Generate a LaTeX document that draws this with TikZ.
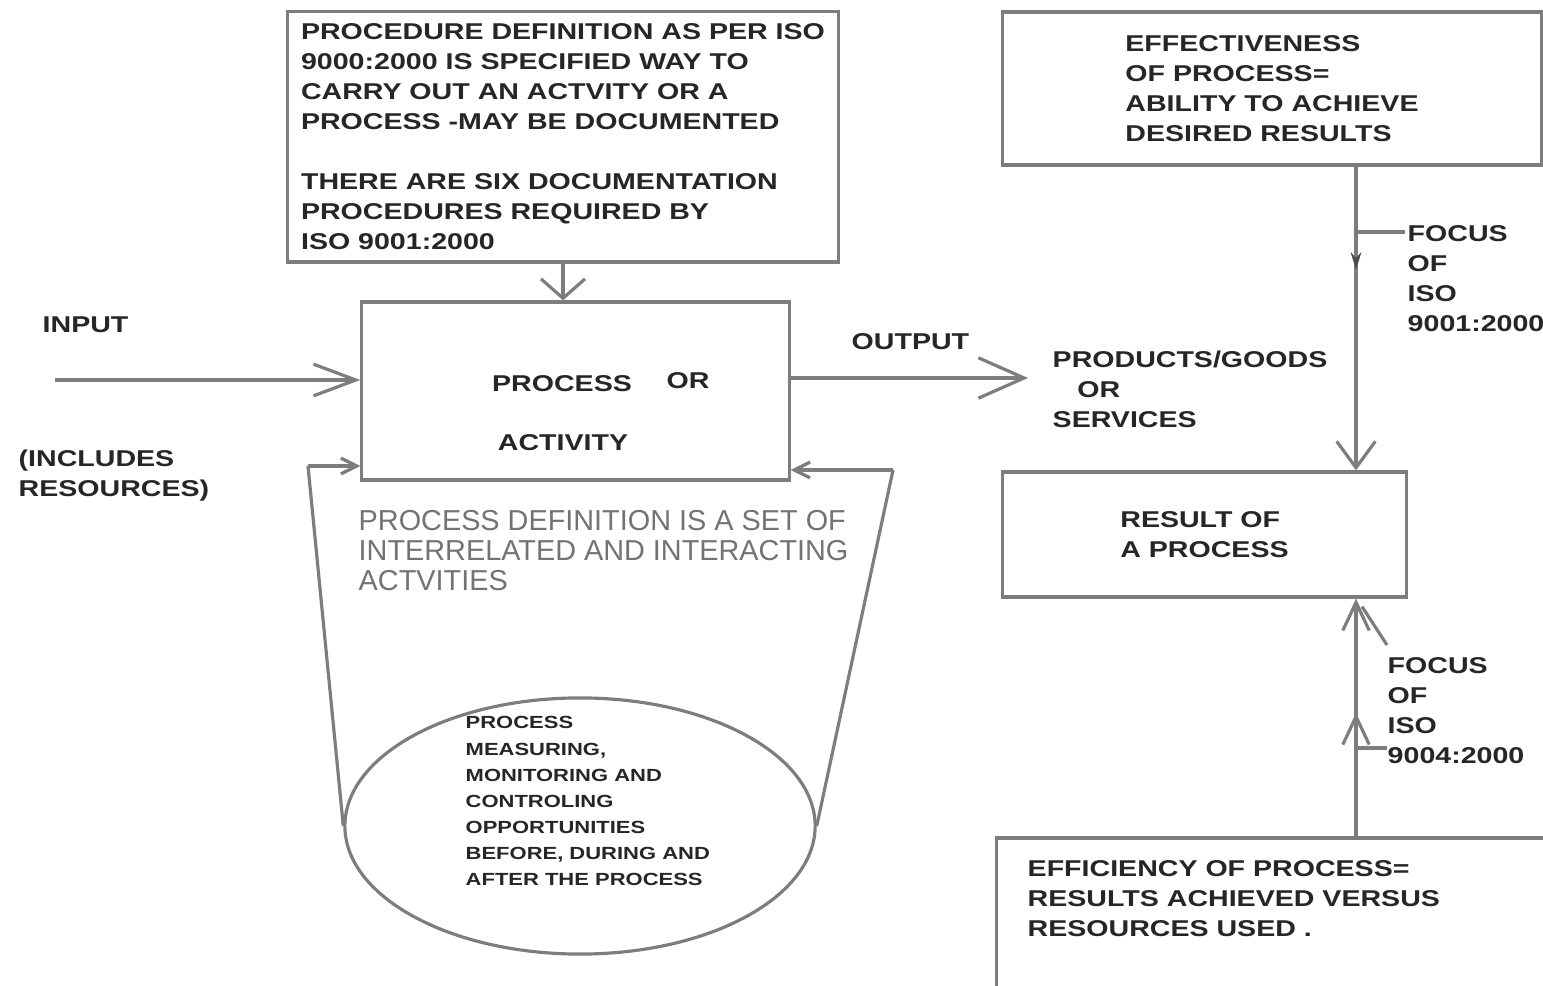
\documentclass[tikz,border=0pt]{standalone}
\usepackage{fontspec}
\newfontfamily\boxfont[FakeStretch=1.25]{Liberation Sans}
\newfontfamily\greyfont{Liberation Sans}
\usepackage{tikz}
\usetikzlibrary{arrows.meta,shapes.geometric,decorations.markings,calc}
\definecolor{linegray}{RGB}{125,125,125}
\definecolor{textgray}{RGB}{115,115,115}
\tikzset{
	box/.style={draw=linegray, line width=0.9pt, rectangle, inner sep=0pt},
	conn/.style={draw=linegray, line width=0.9pt},
	lbl/.style={inner sep=0pt, align=left, text=black!85, font=\boxfont\bfseries\fontsize{6.5}{8.54}\selectfont},
	greytxt/.style={inner sep=0pt, align=left, text=textgray, font=\greyfont\fontsize{8.2}{8.54}\selectfont},
	intip/.style={-{Straight Barb[length=12pt,width=9pt]}},
	outtip/.style={-{Straight Barb[length=13pt,width=11.5pt]}},
	flattip/.style={-{Straight Barb[length=5.5pt,width=12.5pt]}},
	downtip/.style={-{Straight Barb[length=7.5pt,width=11pt]}},
	uptip/.style={-{Straight Barb[length=8pt,width=7.5pt]}},
	smalltip/.style={-{Straight Barb[length=4.5pt,width=4.5pt]}}
}
\begin{document}
\begin{tikzpicture}[x=0.01cm, y=-0.01cm]
	\clip (0,0) rectangle (1543,986);
	\fill[white] (0,0) rectangle (1543,986);
	%Procedure definition
	\node[box, lbl, minimum width=5.5cm, minimum height=2.5cm] (procdef) at (563,137) {PROCEDURE DEFINITION AS PER ISO\\9000:2000 IS SPECIFIED WAY TO\\CARRY OUT AN ACTVITY OR A\\PROCESS -MAY BE DOCUMENTED\\[8.5pt]THERE ARE SIX DOCUMENTATION\\PROCEDURES REQUIRED BY\\ISO 9001:2000};
	%Process or activity
	\node[box, minimum width=4.27cm, minimum height=1.78cm] (proc) at (575.5,391) {};
	\node[lbl] (proctxt) at (562,384) {PROCESS};
	\node[lbl] (ortxt) at (688,381) {OR};
	\node[lbl] (acttxt) at (563,443) {ACTIVITY};
	\draw[conn, flattip] (procdef.south) -- (procdef.south |- proc.north);
	%Input
	\coordinate (in) at (55,380);
	\draw[conn, intip] (in) -- (in -| proc.west);
	\node[lbl, anchor=west] (input) at (42,325) {INPUT};
	\node[lbl, anchor=north west] (resources) at (18,449) {(INCLUDES\\RESOURCES)};
	%Output
	\coordinate (out) at (1028,378);
	\draw[conn, outtip] (out -| proc.east) -- (out);
	\node[lbl, anchor=west] (output) at (851,342) {OUTPUT};
	\node[lbl, anchor=north west] (goods) at (1052,350) {PRODUCTS/GOODS\\\hspace*{7pt}OR\\SERVICES};
	%Process definition
	\node[greytxt, anchor=north west] (pdtxt) at (358,510) {PROCESS DEFINITION IS A SET OF\\INTERRELATED AND INTERACTING\\ACTVITIES};
	%Measuring ellipse
	\node[draw=linegray, line width=0.9pt, ellipse, minimum width=4.7cm, minimum height=2.56cm, inner sep=0pt] (meas) at (580,826) {};
	\node[lbl, font=\boxfont\bfseries\fontsize{5}{7.4}\selectfont, anchor=north west] (meastxt) at (465,716) {PROCESS\\MEASURING,\\MONITORING AND\\CONTROLING\\OPPORTUNITIES\\BEFORE, DURING AND\\AFTER THE PROCESS};
	%Feedback
	\coordinate (lt) at (308,466);
	\coordinate (rt) at (893,470);
	\draw[conn] (meas.west) -- (lt);
	\draw[conn, smalltip] (lt) -- (lt -| proc.west);
	\draw[conn] (meas.east) -- (rt);
	\draw[conn, smalltip] (rt) -- (rt -| proc.east);
	%Effectiveness
	\node[box, lbl, minimum width=5.38cm, minimum height=1.53cm] (effect) at (1272,88.5) {EFFECTIVENESS\\OF PROCESS=\\ABILITY TO ACHIEVE\\DESIRED RESULTS};
	%Result
	\node[box, lbl, minimum width=4.03cm, minimum height=1.25cm] (result) at (1204.5,534.5) {RESULT OF\\A PROCESS};
	%Efficiency
	\node[box, minimum width=5.6cm, minimum height=1.7cm] (effic) at (1277,923) {};
	\node[lbl, anchor=north west] (effictxt) at (1027,860) {EFFICIENCY OF PROCESS=\\RESULTS ACHIEVED VERSUS\\RESOURCES USED .};
	%Focus
	\coordinate (vx) at (1356,0);
	\draw[conn, downtip, postaction={decorate}, decoration={markings, mark=at position 0.34 with {\arrow[black!70]{Stealth[length=5pt,width=3pt]}}}] (effect.south -| vx) -- (result.north -| vx);
	\draw[conn, uptip, postaction={decorate}, decoration={markings, mark=at position 0.52 with {\arrow[linegray]{Straight Barb[length=8pt,width=7.5pt]}}}] (effic.north -| vx) -- (result.south -| vx);
	\node[lbl, anchor=north west] (focA) at (1407,225) {FOCUS\\OF\\ISO\\9001:2000};
	\node[lbl, anchor=north west] (focB) at (1387,657) {FOCUS\\OF\\ISO\\9004:2000};
	\draw[conn] ($(vx |- focA.north west)+(0,7)$) -- ($(focA.north west)+(-2,7)$);
	\draw[conn] ($(vx |- focB.north west)+(0,91)$) -- ($(focB.north west)+(0,91)$);
	\draw[conn] ($(result.south -| vx)+(6,8)$) -- ($(focB.north west)+(0,-12)$);
\end{tikzpicture}
\end{document}
